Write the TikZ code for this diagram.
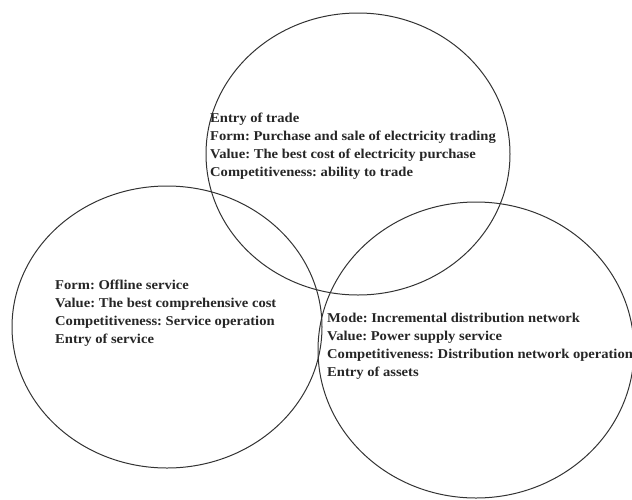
\documentclass[tikz,border=0pt]{standalone}
\usepackage{fontspec}
\setmainfont{Liberation Serif}[FakeStretch=1.08]
\frenchspacing
\usetikzlibrary{shapes.geometric}
\tikzset{
  ring/.style={ellipse,draw=black!80,line width=1pt,inner sep=0pt},
  infotext/.style={anchor=north west,align=left,inner sep=0pt,text=black!85,
    font=\bfseries\fontsize{13.5}{18}\selectfont}
}
\begin{document}
\begin{tikzpicture}[x=1pt,y=-1pt]
  \useasboundingbox (0,0) rectangle (632,499);
  % the three rings
  \node(trade)[ring,minimum width=304pt,minimum height=282pt] at (358,154){};
  \node(service)[ring,minimum width=310pt,minimum height=282pt] at (167,327){};
  \node(assets)[ring,minimum width=316pt,minimum height=296pt] at (476,350){};
  % texts
  \node(tradetext)[infotext] at (210,112.5){Entry of trade\\
    Form: Purchase and sale of electricity trading\\
    Value: The best cost of electricity purchase\\
    Competitiveness: ability to trade};
  \node(servicetext)[infotext] at (55,280){Form: Offline service\\
    Value: The best comprehensive cost\\
    Competitiveness: Service operation\\
    Entry of service};
  \node(assetstext)[infotext] at (327,313){Mode: Incremental distribution network\\
    Value: Power supply service\\
    Competitiveness: Distribution network operation\\
    Entry of assets};
\end{tikzpicture}
\end{document}
